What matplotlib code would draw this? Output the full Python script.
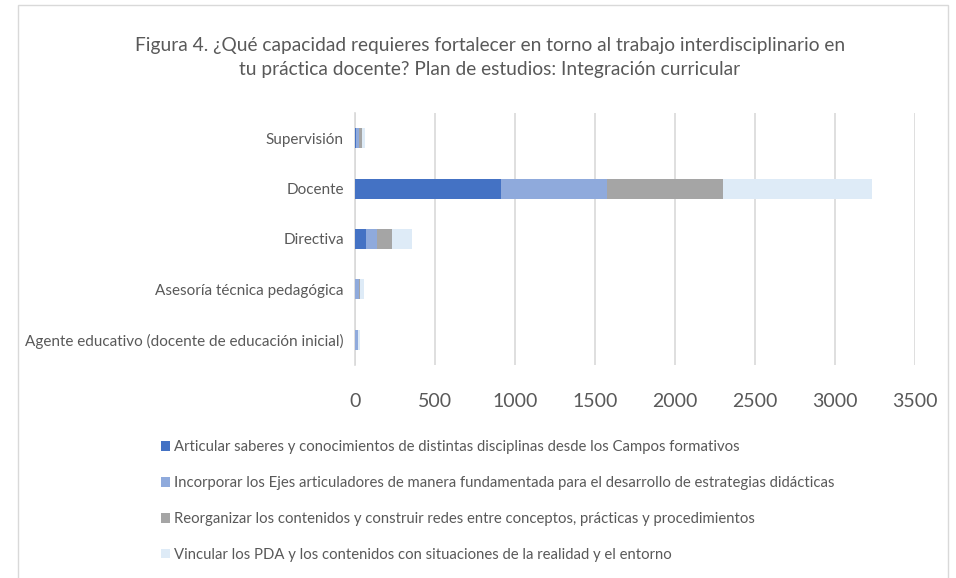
import matplotlib.pyplot as plt
from matplotlib.patches import Rectangle
import numpy as np

plt.rcParams['font.family'] = ['Lato', 'DejaVu Sans']

categories = ['Agente educativo (docente de educación inicial)',
              'Asesoría técnica pedagógica',
              'Directiva',
              'Docente',
              'Supervisión']

series_names = ['Articular saberes y conocimientos de distintas disciplinas desde los Campos formativos',
                'Incorporar los Ejes articuladores de manera fundamentada para el desarrollo de estrategias didácticas',
                'Reorganizar los contenidos y construir redes entre conceptos, prácticas y procedimientos',
                'Vincular los PDA y los contenidos con situaciones de la realidad y el entorno']

articular = [2, 3, 71, 911, 9]
incorporar = [17, 21, 64, 666, 18]
reorganizar = [2, 10, 99, 724, 17]
vincular = [8, 25, 125, 929, 20]

colors = ['#4472C4', '#8FAADC', '#A5A5A5', '#DEEBF7']

fig = plt.figure(figsize=(9.56, 5.78), dpi=100)
ax = fig.add_axes([355 / 956, 1 - 365 / 578, 560 / 956, 252 / 578])

y = np.arange(len(categories))
left = np.zeros(len(categories))
for name, vals, c in zip(series_names, [articular, incorporar, reorganizar, vincular], colors):
    ax.barh(y, vals, left=left, height=0.4, color=c, label=name, zorder=3)
    left += np.array(vals)

ax.set_xlim(0, 3500)
ax.set_ylim(-0.5, 4.5)
ax.set_xticks(range(0, 3501, 500))
ax.set_yticks(y)
ax.set_yticklabels(categories, fontsize=11, color='#595959')
ax.tick_params(axis='x', labelsize=14, labelcolor='#595959', length=0, pad=20)
ax.tick_params(axis='y', length=0, pad=8)
ax.grid(True, axis='x', color='#D9D9D9', linewidth=1.2, zorder=0)
for s in ['top', 'right', 'bottom']:
    ax.spines[s].set_visible(False)
ax.spines['left'].set_color('#D9D9D9')
ax.spines['left'].set_linewidth(1.2)

fig.text(490 / 956, 1 - 58 / 578,
         'Figura 4. ¿Qué capacidad requieres fortalecer en torno al trabajo interdisciplinario en\n'
         'tu práctica docente? Plan de estudios: Integración curricular',
         ha='center', va='center', fontsize=13.8, color='#595959', linespacing=1.5)

handles, labels = ax.get_legend_handles_labels()
fig.legend(handles, labels, loc='upper left', bbox_to_anchor=(148 / 956, 1 - 427 / 578),
           frameon=False, fontsize=10.7, labelcolor='#595959', labelspacing=1.47,
           handlelength=0.6, handleheight=0.6, handletextpad=0.25)

fig.add_artist(Rectangle((18 / 956, -0.1), 930 / 956, 1.1 - 5 / 578,
                         transform=fig.transFigure, fill=False,
                         edgecolor='#D9D9D9', linewidth=1))

plt.savefig('out.png', dpi=100)
